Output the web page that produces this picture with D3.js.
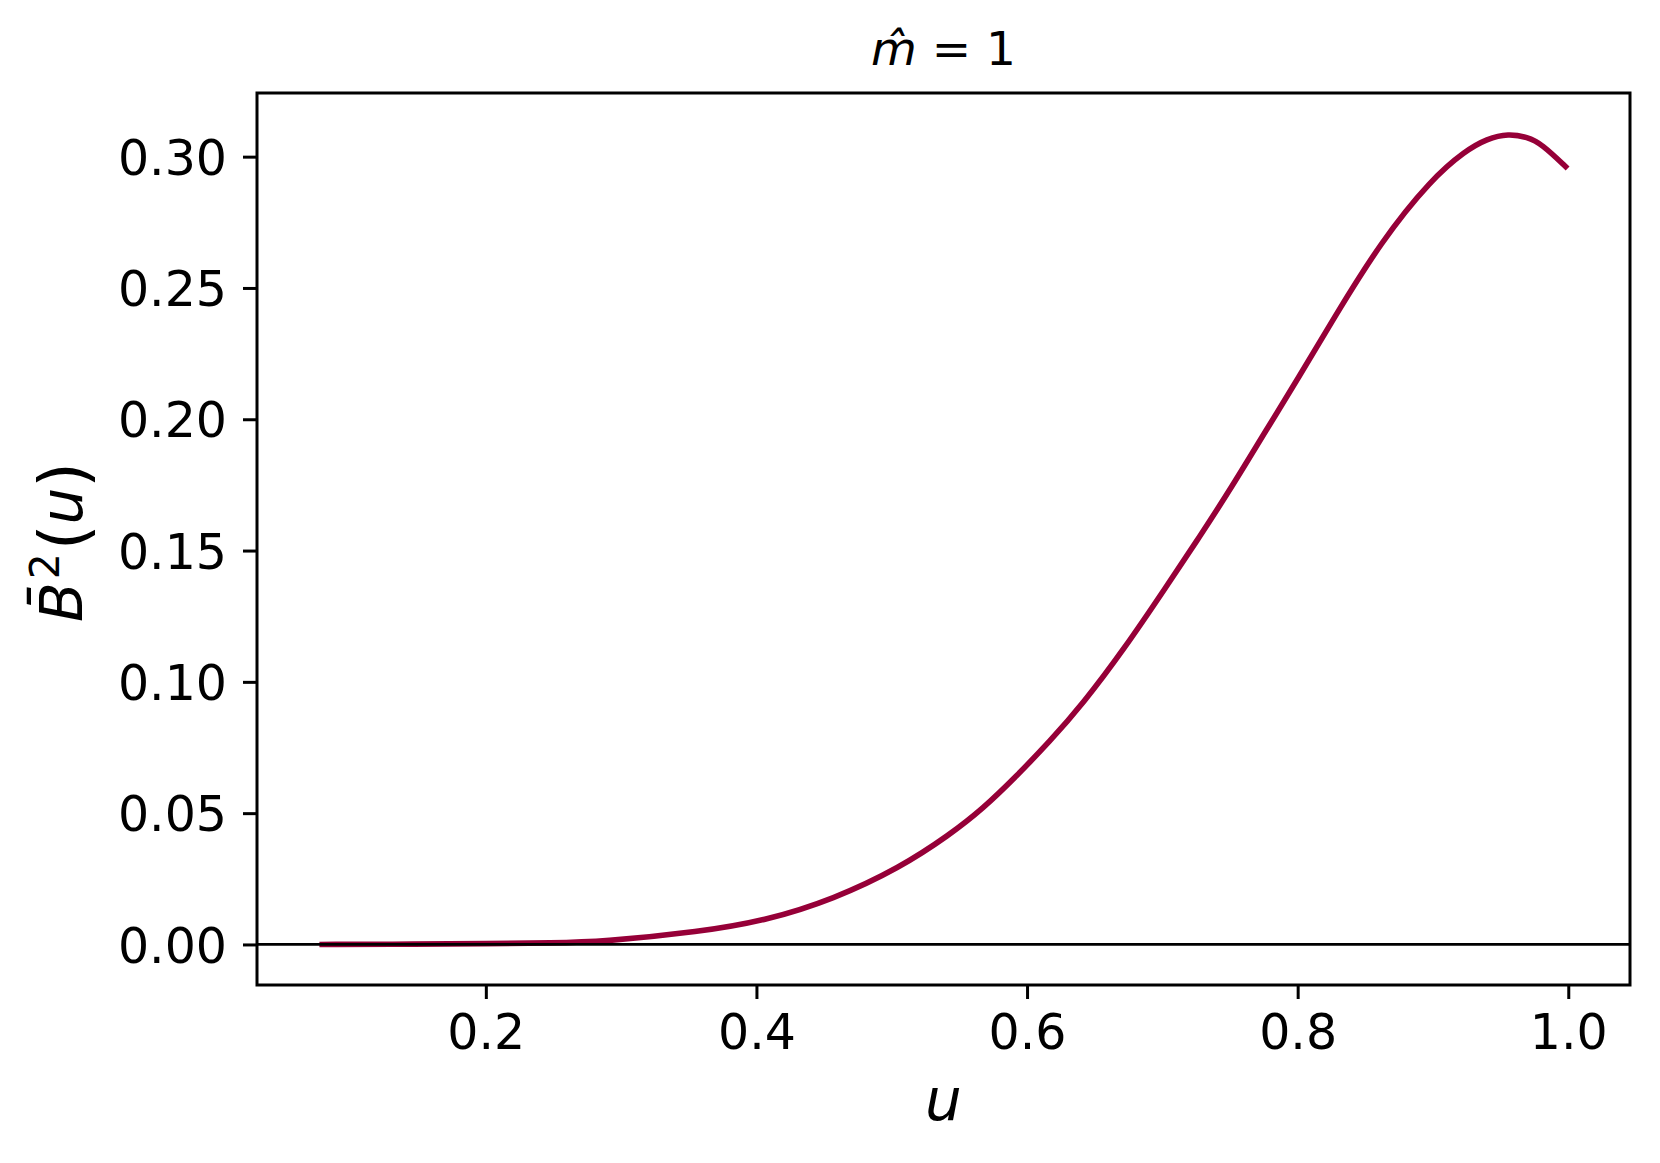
<!DOCTYPE html>
<meta charset="utf-8">
<style>
body { margin: 0; background: #fff; }
svg text { font-family: "DejaVu Sans", sans-serif; fill: #000; }
</style>
<svg width="1660" height="1163"></svg>
<script src="https://d3js.org/d3.v7.min.js"></script>
<script>
"use strict";

// curve
var uVals = [0.077, 0.15, 0.20, 0.25, 0.285, 0.3585, 0.4077, 0.4568, 0.506, 0.5429, 0.5674,
             0.592, 0.6166, 0.6412, 0.6719, 0.7026, 0.7272, 0.7517, 0.7763, 0.8009, 0.8255,
             0.862, 0.899, 0.9238, 0.94, 0.9557, 0.97, 0.98, 0.9995];
var bVals = [0, 0.0001, 0.0003, 0.0006, 0.0010, 0.0048, 0.0092, 0.0172, 0.0292, 0.0418, 0.0517,
             0.0640, 0.0772, 0.0916, 0.1126, 0.1360, 0.1550, 0.1745, 0.1955, 0.2160, 0.2375,
             0.2680, 0.2915, 0.3022, 0.3068, 0.3088, 0.3074, 0.3050, 0.2955];

var xTicks = [0.2, 0.4, 0.6, 0.8, 1.0];
var yTicks = [0, 0.05, 0.10, 0.15, 0.20, 0.25, 0.30];

var svg = d3.select("svg");
var plotL = 257, plotR = 1630, plotT = 93, plotB = 985;

function padded(vals) {
  var e = d3.extent(vals), m = (e[1] - e[0]) * 0.05;
  return [e[0] - m, e[1] + m];
}

var x = d3.scaleLinear().domain(padded(uVals)).range([plotL, plotR]);
var y = d3.scaleLinear().domain(padded(bVals)).range([plotB, plotT]);

var data = uVals.map(function(u, i) { return [u, bVals[i]]; });

var line = d3.line()
    .x(function(d) { return x(d[0]); })
    .y(function(d) { return y(d[1]); })
    .curve(d3.curveBasis);

svg.append("path")
    .datum(data)
    .attr("d", line)
    .attr("fill", "none")
    .attr("stroke", "#960038")
    .attr("stroke-width", 5.6);

// zero line
svg.append("line")
    .attr("x1", plotL).attr("x2", plotR)
    .attr("y1", y(0)).attr("y2", y(0))
    .attr("stroke", "#000")
    .attr("stroke-width", 2.8);

var xAxis = svg.append("g")
    .attr("transform", "translate(0," + plotB + ")")
    .call(d3.axisBottom(x).tickValues(xTicks).tickFormat(d3.format(".1f")).tickSize(14).tickPadding(15));

var yAxis = svg.append("g")
    .attr("transform", "translate(" + plotL + ",0)")
    .call(d3.axisLeft(y).tickValues(yTicks).tickFormat(d3.format(".2f")).tickSize(14).tickPadding(16));

[xAxis, yAxis].forEach(function(g) {
  g.select(".domain").remove();
  g.selectAll(".tick line").attr("stroke", "#000").attr("stroke-width", 3);
  g.selectAll(".tick text").attr("font-size", 49).attr("font-family", "DejaVu Sans").attr("fill", "#000");
});
yAxis.selectAll(".tick text").attr("dy", "0.36em");

// frame
svg.append("rect")
    .attr("x", plotL).attr("y", plotT)
    .attr("width", plotR - plotL).attr("height", plotB - plotT)
    .attr("fill", "none")
    .attr("stroke", "#000")
    .attr("stroke-width", 3);

// title
var title = svg.append("text")
    .attr("x", (plotL + plotR) / 2)
    .attr("y", 65)
    .attr("text-anchor", "middle")
    .attr("font-size", 47);
title.append("tspan").attr("font-style", "italic").text("m\u0302");
title.append("tspan").text(" = 1");

// x label
svg.append("text")
    .attr("x", (plotL + plotR) / 2)
    .attr("y", 1120)
    .attr("text-anchor", "middle")
    .attr("font-size", 58)
    .attr("font-style", "italic")
    .text("u");

// y label
var yl = svg.append("text")
    .attr("transform", "translate(82," + ((plotT + plotB) / 2 + 3) + ") rotate(-90)")
    .attr("text-anchor", "middle")
    .attr("font-size", 58);
yl.append("tspan").attr("font-style", "italic").text("B\u0304");
yl.append("tspan").attr("font-size", 41).attr("dx", 3).attr("dy", -23).text("2");
yl.append("tspan").attr("font-size", 66).attr("dx", 3).attr("dy", 27).text("(");
yl.append("tspan").attr("font-style", "italic").attr("dy", -4).text("u");
yl.append("tspan").attr("font-size", 66).attr("dy", 4).text(")");
</script>
